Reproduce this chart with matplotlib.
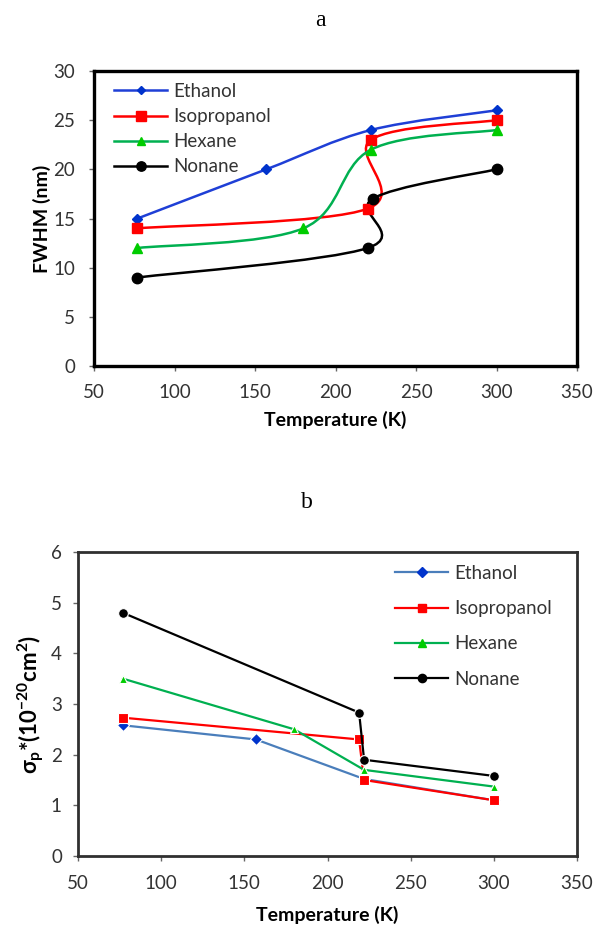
import numpy as np
import matplotlib
matplotlib.use('Agg')
import matplotlib.pyplot as plt
from matplotlib.path import Path
from matplotlib.patches import PathPatch
from matplotlib.lines import Line2D

plt.rcParams['font.family'] = ['Lato', 'DejaVu Sans']
plt.rcParams['mathtext.fontset'] = 'custom'
plt.rcParams['mathtext.rm'] = 'Lato'
plt.rcParams['mathtext.bf'] = 'Lato:bold'

names = ['Ethanol', 'Isopropanol', 'Hexane', 'Nonane']

# (a) FWHM vs temperature
fwhm_T = {
    'Ethanol': [77, 157, 222, 300],
    'Isopropanol': [77, 220, 222, 300],
    'Hexane': [77, 180, 222, 300],
    'Nonane': [77, 220, 223, 300],
}
fwhm = {
    'Ethanol': [15, 20, 24, 26],
    'Isopropanol': [14, 16, 23, 25],
    'Hexane': [12, 14, 22, 24],
    'Nonane': [9, 12, 17, 20],
}

# (b) cross section vs temperature
sig_T = {
    'Ethanol': [77, 157, 222, 300],
    'Isopropanol': [77, 219, 222, 300],
    'Hexane': [77, 180, 222, 300],
    'Nonane': [77, 219, 222, 300],
}
sigma = {
    'Ethanol': [2.58, 2.3, 1.52, 1.1],
    'Isopropanol': [2.73, 2.3, 1.5, 1.1],
    'Hexane': [3.5, 2.5, 1.7, 1.37],
    'Nonane': [4.8, 2.83, 1.9, 1.58],
}

line_a = {'Ethanol': '#1f3fd6', 'Isopropanol': '#ff0000', 'Hexane': '#00b050', 'Nonane': '#000000'}
line_b = {'Ethanol': '#4a7ebb', 'Isopropanol': '#ff0000', 'Hexane': '#00b050', 'Nonane': '#000000'}
mark_col = {'Ethanol': '#0033cc', 'Isopropanol': '#ff0000', 'Hexane': '#00cc00', 'Nonane': '#000000'}
mark = {'Ethanol': 'D', 'Isopropanol': 's', 'Hexane': '^', 'Nonane': 'o'}
msize_a = {'Ethanol': 5, 'Isopropanol': 7.5, 'Hexane': 7, 'Nonane': 7.5}
msize_b = {'Ethanol': 6, 'Isopropanol': 7, 'Hexane': 6, 'Nonane': 7}


def smooth_path(x, y):
    # Catmull-Rom style bezier through the points
    p = np.column_stack([x, y]).astype(float)
    verts = [p[0]]
    codes = [Path.MOVETO]
    n = len(p)
    for i in range(n - 1):
        p0 = p[i - 1] if i > 0 else p[i]
        p1, p2 = p[i], p[i + 1]
        p3 = p[i + 2] if i + 2 < n else p[i + 1]
        verts += [p1 + (p2 - p0) / 6, p2 - (p3 - p1) / 6, p2]
        codes += [Path.CURVE4] * 3
    return Path(verts, codes)


fig = plt.figure(figsize=(5.95, 9.26), dpi=100)
ax1 = fig.add_axes([94 / 595, 1 - 366 / 926, 483 / 595, 295 / 926])
ax2 = fig.add_axes([78 / 595, 1 - 856 / 926, 499 / 595, 304 / 926])

for n in names:
    ax1.add_patch(PathPatch(smooth_path(fwhm_T[n], fwhm[n]), fill=False,
                            edgecolor=line_a[n], lw=1.8, zorder=2))
    ax1.plot(fwhm_T[n], fwhm[n], linestyle='none', marker=mark[n],
             ms=msize_a[n], color=mark_col[n], zorder=3)

for n in names:
    ax2.plot(sig_T[n], sigma[n], color=line_b[n], lw=1.6, marker=mark[n],
             ms=msize_b[n], mfc=mark_col[n], mec='white', mew=0.8)

ax1.set_xlim(50, 350)
ax1.set_ylim(0, 30)
ax1.set_xticks(range(50, 351, 50))
ax1.set_yticks(range(0, 31, 5))
ax1.set_xlabel('Temperature (K)', fontsize=14, fontweight='bold', va='center')
ax1.set_ylabel('FWHM (nm)', fontsize=14, fontweight='bold', va='center')
ax1.xaxis.set_label_coords(0.5, (366 - 420) / 295)
ax1.yaxis.set_label_coords((42 - 94) / 483, 0.5)

ax2.set_xlim(50, 350)
ax2.set_ylim(0, 6)
ax2.set_xticks(range(50, 351, 50))
ax2.set_yticks(range(0, 7))
ax2.set_xlabel('Temperature (K)', fontsize=14, fontweight='bold', va='center')
ax2.set_ylabel(r'σ$_\mathbf{p}$*(10$^{\mathbf{-20}}$cm$^{\mathbf{2}}$)', fontsize=16,
               fontweight='bold', va='center')
ax2.xaxis.set_label_coords(0.5, (856 - 915) / 304)
ax2.yaxis.set_label_coords((31 - 78) / 499, 0.5)

for ax, lw, col in ((ax1, 2.4, 'black'), (ax2, 2.0, '#303030')):
    for s in ax.spines.values():
        s.set_linewidth(lw)
        s.set_color(col)
    ax.tick_params(direction='out', length=3.6, width=1, color='#666666',
                   labelsize=13.5, labelcolor='#333333')
ax1.tick_params(axis='x', pad=9)
ax1.tick_params(axis='y', pad=10)
ax2.tick_params(axis='x', pad=10)
ax2.tick_params(axis='y', pad=8)

h1 = [Line2D([], [], color=line_a[n], lw=1.8, marker=mark[n], ms=msize_a[n] * 0.9,
             mfc=mark_col[n], mec=mark_col[n]) for n in names]
fig.legend(h1, names, loc='upper left', bbox_to_anchor=(114 / 595, 1 - 83 / 926),
           bbox_transform=fig.transFigure, frameon=False, fontsize=13.5,
           handlelength=2.85, handletextpad=0.3, labelspacing=0.43,
           borderpad=0, borderaxespad=0, labelcolor='#333333')

h2 = [Line2D([], [], color=line_b[n], lw=1.6, marker=mark[n], ms=msize_b[n] * 0.85,
             mfc=mark_col[n], mec=mark_col[n]) for n in names]
fig.legend(h2, names, loc='upper left', bbox_to_anchor=(395 / 595, 1 - 565 / 926),
           bbox_transform=fig.transFigure, frameon=False, fontsize=13.5,
           handlelength=2.85, handletextpad=0.3, labelspacing=0.97,
           borderpad=0, borderaxespad=0, labelcolor='#333333')

fig.text(320 / 595, 1 - 20 / 926, 'a', family='Liberation Serif', fontsize=17,
         ha='center', va='center')
fig.text(307 / 595, 1 - 502 / 926, 'b', family='Liberation Serif', fontsize=17,
         ha='center', va='center')

fig.savefig('out.png', dpi=100)
